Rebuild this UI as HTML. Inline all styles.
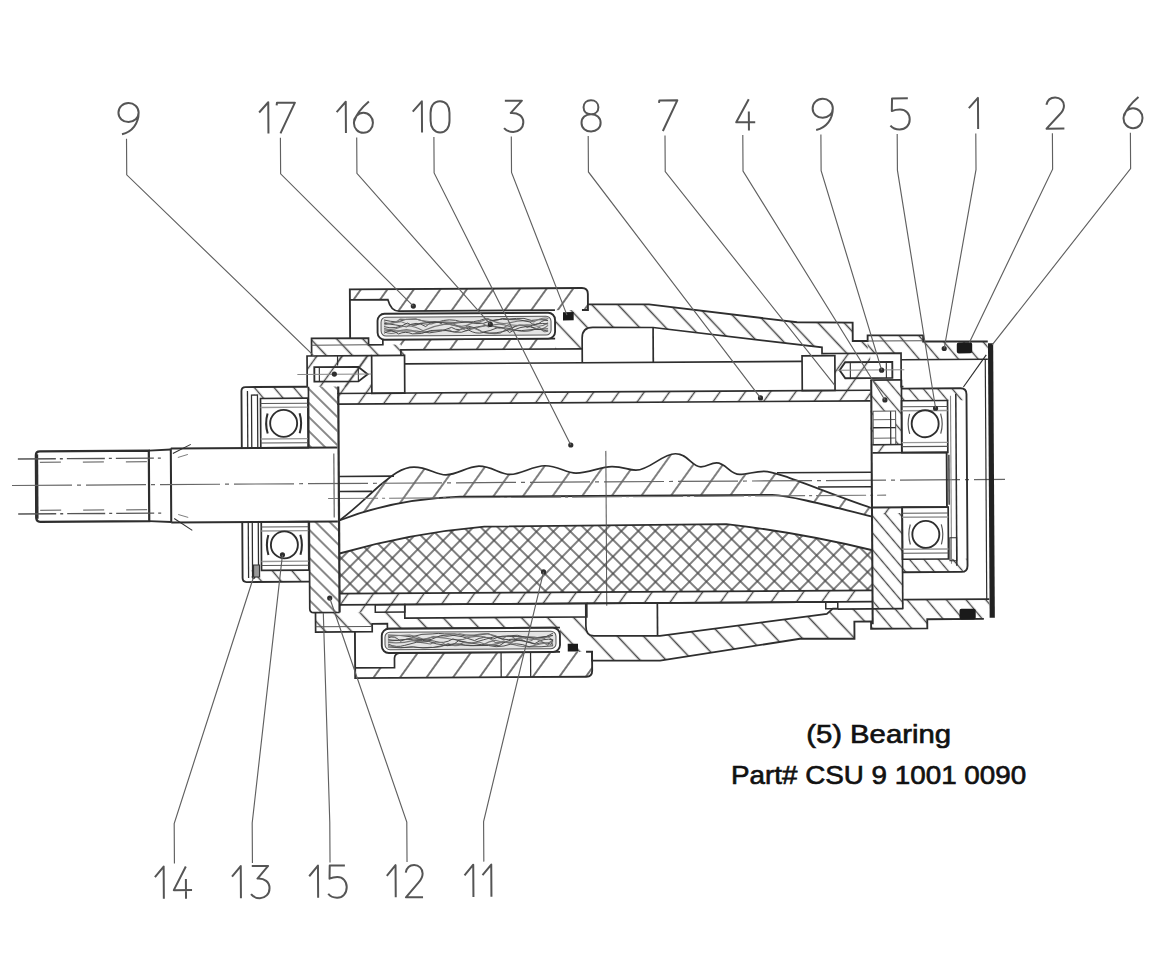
<!DOCTYPE html><html><head><meta charset="utf-8"><style>html,body{margin:0;padding:0;background:#fff;width:1170px;height:953px;overflow:hidden}svg{display:block}</style></head><body><svg width="1170" height="953" viewBox="0 0 1170 953"><defs><pattern id="h17" patternUnits="userSpaceOnUse" width="21.5" height="21.5" patternTransform="translate(0 0) rotate(36)"><line x1="10.75" y1="-5" x2="10.75" y2="26.5" stroke="#484848" stroke-width="1.5"/></pattern><pattern id="h8" patternUnits="userSpaceOnUse" width="20.5" height="20.5" patternTransform="translate(5 0) rotate(36)"><line x1="10.25" y1="-5" x2="10.25" y2="25.5" stroke="#484848" stroke-width="1.4"/></pattern><pattern id="hwav" patternUnits="userSpaceOnUse" width="24" height="24" patternTransform="translate(8 0) rotate(36)"><line x1="12.0" y1="-5" x2="12.0" y2="29" stroke="#484848" stroke-width="1.4"/></pattern><pattern id="hfl" patternUnits="userSpaceOnUse" width="10" height="10" patternTransform="translate(0 0) rotate(-45)"><line x1="5.0" y1="-5" x2="5.0" y2="15" stroke="#484848" stroke-width="1.3"/></pattern><pattern id="h4" patternUnits="userSpaceOnUse" width="11" height="11" patternTransform="translate(0 0) rotate(-40)"><line x1="5.5" y1="-5" x2="5.5" y2="16" stroke="#484848" stroke-width="1.3"/></pattern><pattern id="h1" patternUnits="userSpaceOnUse" width="15" height="15" patternTransform="translate(0 0) rotate(-40)"><line x1="7.5" y1="-5" x2="7.5" y2="20" stroke="#484848" stroke-width="1.4"/></pattern><pattern id="h7" patternUnits="userSpaceOnUse" width="19" height="19" patternTransform="translate(10 0) rotate(-43)"><line x1="9.5" y1="-5" x2="9.5" y2="24" stroke="#484848" stroke-width="1.5"/></pattern><pattern id="xh" patternUnits="userSpaceOnUse" width="12" height="12" patternTransform="translate(10 -3.2) rotate(45)"><line x1="0" y1="6" x2="12" y2="6" stroke="#484848" stroke-width="1.4"/><line x1="6" y1="0" x2="6" y2="12" stroke="#484848" stroke-width="1.4"/></pattern></defs><rect width="1170" height="953" fill="#ffffff"/><g transform="rotate(-0.35 585 480)"><path d="M351,288 L583,288 Q589,288 589,294 L589,310 L400,310 Q392,310 389,298.5 L351,298.5 Z" fill="url(#h17)" stroke="none"/>
<path d="M383.7,338.4 L556,338.4 L556,348.8 L401.7,348.8 L401.7,343.5 L383.7,343.5 Z" fill="url(#h17)" stroke="none"/>
<polygon points="312.4,336.8 369.4,336.8 369.4,343.5 401.7,343.5 401.7,348.8 405.3,348.8 405.3,354.3 307.8,354.3 307.8,343.5 312.4,343.5" fill="url(#h7)" stroke="none"/>
<polygon points="307.8,354.3 372.4,354.3 372.4,385.0 307.8,385.0" fill="url(#h8)" stroke="none"/>
<polygon points="337.6,354.3 372.4,354.3 372.4,392.0 871.0,392.0 871.0,402.6 337.6,402.6" fill="url(#h8)" stroke="none"/>
<polygon points="835.6,355.0 871.0,355.0 871.0,392.0 835.6,392.0" fill="url(#h8)" stroke="none"/>
<polygon points="339.0,592.2 872.0,592.2 872.0,603.4 404.0,603.4 404.0,611.0 339.0,611.0" fill="url(#h8)" stroke="none"/>
<polygon points="308.3,385.0 337.6,385.0 337.6,446.0 308.3,446.0" fill="url(#hfl)" stroke="none"/>
<polygon points="309.0,520.0 338.8,520.0 338.8,611.0 309.0,611.0" fill="url(#hfl)" stroke="none"/>
<polygon points="314.7,611.0 404.0,611.0 404.0,617.0 404.0,617.0 559.0,617.0 559.0,627.5 386.5,627.5 386.5,622.5 371.3,622.5 371.3,630.4 314.7,630.4" fill="url(#h7)" stroke="none"/>
<path d="M354,666.4 L393.4,666.4 L393.4,657 Q393.4,651.8 401,651.8 L591,651.8 L591,670.7 Q591,676.7 585,676.7 L354,676.7 Z" fill="url(#h17)" stroke="none"/>
<path d="M589,304.4 L650,304.8 L798,323.6 L853.6,324.2 L853.6,342.6 L868.5,342.7 L868.5,355 L830,355 L822.8,348.8 L654,327.9 L593.8,327.5 Q583,327.5 583,338 L583,348.8 L556,348.8 L556,310 L589,310 Z" fill="url(#h7)" stroke="none"/>
<path d="M591,660.7 L659,661.1 L799,640.1 L853.5,640.4 L853.5,623.2 L871,623.2 L871,610.6 L832,610.2 L826,615.4 L659,636.4 L593,636 Q585,636 585,626 L585,617 L559,617 L559,651.8 L591,651.8 Z" fill="url(#h7)" stroke="none"/>
<polygon points="868.5,337.1 924.0,337.4 924.0,343.6 988.6,344.0 988.6,361.7 901.8,361.7 901.8,355.0 868.5,355.0" fill="url(#h1)" stroke="none"/>
<polygon points="871.0,610.6 902.5,610.6 902.5,601.5 988.6,601.5 988.6,615.0 983.0,621.3 926.4,621.3 926.4,630.5 870.2,630.5 870.2,623.2 871.0,623.2" fill="url(#h1)" stroke="none"/>
<polygon points="871.0,381.8 901.8,381.8 901.8,447.0 871.0,447.0" fill="url(#h4)" stroke="none"/>
<polygon points="872.6,515.0 902.5,515.0 902.5,610.6 872.6,610.6" fill="url(#h4)" stroke="none"/>
<polygon points="872.6,446.5 902.0,446.5 902.0,454.6 872.6,454.6" fill="url(#h8)" stroke="none"/>
<polygon points="872.6,509.0 902.0,509.0 902.0,516.0 872.6,516.0" fill="url(#h8)" stroke="none"/>
<polygon points="902.0,390.5 961.0,390.5 967.0,396.5 967.0,402.7 902.0,402.7" fill="url(#h4)" stroke="none"/>
<polygon points="902.0,561.2 967.0,561.2 967.0,568.0 961.0,574.2 902.0,574.2" fill="url(#h4)" stroke="none"/>
<polygon points="250.0,385.0 308.3,385.0 308.3,396.5 250.0,396.5" fill="url(#h1)" stroke="none"/>
<polygon points="250.0,568.5 310.0,568.5 310.0,580.0 250.0,580.0" fill="url(#h1)" stroke="none"/>
<path d="M339,519 C352,510 364,498 380,484 C392,474 402,466 414,466 C428,466 436,474 446,474 C458,474 466,466 479,465.5 C492,465.5 500,474 510,474 C522,474 532,465.5 545,465.5 C558,465.5 566,473 576,473 C590,473 600,466.8 612,466.8 C624,466.8 628,470.5 636,470.5 C650,470.5 662,454.3 675.6,454.3 C688,454.3 692,467.5 701,467.5 C708,467.5 710,463.6 716.7,463.6 C726,463.6 730,475.4 739.7,475.4 C748,475.4 754,472.4 764,472.4 C778,472.4 820,492 872,510 L872,518.4 C820,505 790,497 772,496 L460,496 C420,497 380,503 339,519 Z" fill="url(#hwav)" stroke="none"/>
<path d="M339,552 Q410,532 484,526 L726,525 Q800,534 872,552 L872,592.2 L339,592.2 Z" fill="url(#xh)" stroke="none"/>
<path d="M339,519 C352,510 364,498 380,484 C392,474 402,466 414,466 C428,466 436,474 446,474 C458,474 466,466 479,465.5 C492,465.5 500,474 510,474 C522,474 532,465.5 545,465.5 C558,465.5 566,473 576,473 C590,473 600,466.8 612,466.8 C624,466.8 628,470.5 636,470.5 C650,470.5 662,454.3 675.6,454.3 C688,454.3 692,467.5 701,467.5 C708,467.5 710,463.6 716.7,463.6 C726,463.6 730,475.4 739.7,475.4 C748,475.4 754,472.4 764,472.4 C778,472.4 820,492 872,510" fill="none" stroke="#2e2e2e" stroke-width="1.70" />
<path d="M339,519 C380,503 420,497 460,496 L772,496 C790,497 820,505 872,518.4" fill="none" stroke="#2e2e2e" stroke-width="1.87" />
<path d="M339,552 Q410,532 484,526 L726,525 Q800,534 872,552" fill="none" stroke="#2e2e2e" stroke-width="1.87" />
<path d="M40,448 L149,448 L149,518.5 L40,518.5 Q36,518.5 36,514 L36,452 Q36,448 40,448 Z" fill="none" stroke="#2e2e2e" stroke-width="2.21" />
<line x1="36.8" y1="451.0" x2="36.8" y2="515.5" stroke="#2e2e2e" stroke-width="3.06" />
<line x1="149.0" y1="448.0" x2="171.0" y2="447.0" stroke="#2e2e2e" stroke-width="1.87" />
<line x1="149.0" y1="518.5" x2="171.0" y2="519.5" stroke="#2e2e2e" stroke-width="1.87" />
<path d="M171,446 L337.6,446 M171,520 L337.6,520 M171,446 L171,520" fill="none" stroke="#2e2e2e" stroke-width="2.04" />
<line x1="334.0" y1="452.0" x2="334.0" y2="516.0" stroke="#555" stroke-width="1.10" />
<line x1="173.0" y1="451.0" x2="191.0" y2="442.0" stroke="#2e2e2e" stroke-width="1.02" />
<line x1="174.0" y1="516.0" x2="192.0" y2="528.0" stroke="#2e2e2e" stroke-width="1.02" />
<line x1="178.0" y1="455.0" x2="188.0" y2="452.0" stroke="#666" stroke-width="0.85" />
<line x1="178.0" y1="512.0" x2="188.0" y2="515.0" stroke="#666" stroke-width="0.85" />
<line x1="18" y1="455.5" x2="165" y2="455.5" stroke="#555" stroke-width="1.4" stroke-dasharray="38 4 3 4"/>
<line x1="18" y1="510.5" x2="165" y2="510.5" stroke="#555" stroke-width="1.4" stroke-dasharray="38 4 3 4"/>
<line x1="39" y1="459" x2="165" y2="459" stroke="#777" stroke-width="1.2" stroke-dasharray="21 22" stroke-dashoffset="-1"/>
<line x1="39" y1="507" x2="165" y2="507" stroke="#777" stroke-width="1.2" stroke-dasharray="21 22" stroke-dashoffset="-1"/>
<line x1="12" y1="482" x2="1005" y2="482" stroke="#666" stroke-width="1.2" stroke-dasharray="60 5 4 5"/>
<line x1="328" y1="497" x2="886" y2="497" stroke="#777" stroke-width="1.1" stroke-dasharray="50 4 3 4"/>
<line x1="339.0" y1="475.0" x2="394.0" y2="475.0" stroke="#2e2e2e" stroke-width="1.70" />
<line x1="339.0" y1="490.0" x2="372.0" y2="490.0" stroke="#2e2e2e" stroke-width="1.70" />
<line x1="777.0" y1="474.0" x2="872.0" y2="474.0" stroke="#2e2e2e" stroke-width="1.53" />
<line x1="818.0" y1="488.5" x2="872.0" y2="488.5" stroke="#2e2e2e" stroke-width="1.53" />
<line x1="606.0" y1="451.0" x2="606.0" y2="606.0" stroke="#555" stroke-width="1.02" />
<path d="M872.6,454.6 L946.8,454.6 L946.8,509.2 L872.6,509.2" fill="none" stroke="#2e2e2e" stroke-width="1.87" />
<line x1="949.0" y1="457.0" x2="949.0" y2="507.0" stroke="#555" stroke-width="1.70" />
<path d="M351,337 L351,288 L583,288 Q589,288 589,294 L589,310 L583,310" fill="none" stroke="#2e2e2e" stroke-width="1.87" />
<path d="M351,298.5 L389,298.5 Q392,310 400,310 L556,310" fill="none" stroke="#2e2e2e" stroke-width="1.70" />
<path d="M312.4,354.3 L312.4,336.8 L369.4,336.8 L369.4,343.5 L383.7,343.5 L383.7,338.4 L556,338.4" fill="none" stroke="#2e2e2e" stroke-width="1.70" />
<line x1="312.4" y1="343.5" x2="369.4" y2="343.5" stroke="#555" stroke-width="1.02" />
<path d="M401.7,354.3 L401.7,348.8 L583,348.8" fill="none" stroke="#2e2e2e" stroke-width="1.70" />
<rect x="378.5" y="312.5" width="177.5" height="25.9" rx="7" fill="#fff" stroke="#2e2e2e" stroke-width="1.87"/>
<rect x="382.0" y="316.0" width="170.0" height="18.8" rx="5" fill="#e4e4e4" stroke="#555" stroke-width="1.02"/>
<path d="M385.0,318.8 Q391.5,320.4 398.0,320.8 Q407.4,317.0 416.9,318.0 Q427.7,322.5 438.6,321.2 Q450.5,317.0 462.3,321.0 Q474.4,322.6 486.5,318.0 Q494.9,321.8 503.2,318.0 Q510.4,319.0 517.6,318.0 Q525.0,317.0 532.3,320.1 Q540.0,319.1 547.6,319.5 Q548.3,319.1 549.0,318.2" fill="none" stroke="#444" stroke-width="0.94" />
<path d="M385.0,320.5 Q393.0,324.7 401.0,318.0 Q408.8,318.9 416.7,318.0 Q423.5,320.2 430.4,320.5 Q443.3,320.6 456.3,321.8 Q463.0,319.1 469.8,322.0 Q479.3,322.9 488.8,318.0 Q500.1,325.0 511.4,322.2 Q523.2,319.0 535.0,321.6 Q542.0,317.0 549.0,318.0" fill="none" stroke="#777" stroke-width="1.10" />
<path d="M385.0,322.1 Q396.2,323.5 407.4,325.8 Q417.0,319.0 426.6,325.6 Q435.2,317.1 443.9,323.7 Q456.6,322.2 469.4,321.1 Q476.8,323.9 484.2,322.8 Q497.0,317.5 509.7,319.1 Q520.0,318.5 530.3,321.5 Q536.5,327.0 542.7,321.2 Q545.9,319.2 549.0,320.4" fill="none" stroke="#444" stroke-width="0.94" />
<path d="M385.0,323.8 Q393.4,321.3 401.9,320.5 Q412.3,325.9 422.7,322.5 Q429.8,324.5 436.9,321.5 Q444.5,321.0 452.0,322.0 Q461.6,328.3 471.2,323.4 Q480.1,319.3 489.1,326.3 Q500.8,320.6 512.5,327.1 Q525.5,322.5 538.5,325.9 Q543.7,326.3 549.0,322.5" fill="none" stroke="#777" stroke-width="1.10" />
<path d="M385.0,325.4 Q396.7,329.1 408.4,322.0 Q414.8,326.3 421.1,322.3 Q432.4,320.6 443.7,321.7 Q456.6,325.4 469.5,328.0 Q478.4,326.1 487.3,324.7 Q499.8,326.8 512.4,328.3 Q520.3,321.5 528.2,326.9 Q538.6,321.7 549.0,323.8" fill="none" stroke="#444" stroke-width="0.94" />
<path d="M385.0,327.0 Q392.6,329.9 400.2,326.3 Q412.0,322.2 423.9,329.7 Q434.4,324.9 444.9,323.5 Q456.0,322.4 467.0,329.9 Q479.5,326.1 491.9,324.1 Q500.7,331.2 509.5,324.3 Q520.4,325.1 531.3,325.5 Q537.6,331.1 543.9,328.2 Q546.4,327.4 549.0,325.2" fill="none" stroke="#777" stroke-width="1.10" />
<path d="M385.0,328.7 Q394.7,330.1 404.4,329.9 Q417.4,329.1 430.4,331.9 Q441.5,331.4 452.5,326.6 Q460.6,331.9 468.7,325.3 Q476.2,326.2 483.7,331.5 Q491.0,330.5 498.4,327.2 Q504.4,326.1 510.5,332.1 Q520.9,325.3 531.2,326.5 Q540.1,330.2 549.0,328.6" fill="none" stroke="#444" stroke-width="0.94" />
<path d="M385.0,330.3 Q391.0,333.8 397.0,331.4 Q407.3,325.4 417.5,331.4 Q427.4,331.0 437.2,329.9 Q443.9,329.9 450.6,329.3 Q456.9,333.5 463.2,327.0 Q473.2,325.4 483.2,331.3 Q492.0,333.8 500.8,332.8 Q507.9,327.2 515.0,329.4 Q527.7,333.7 540.5,327.0 Q544.7,333.8 549.0,330.4" fill="none" stroke="#777" stroke-width="1.10" />
<path d="M385.0,332.0 Q392.2,327.2 399.4,332.8 Q406.3,329.7 413.2,332.8 Q422.4,333.8 431.5,329.6 Q443.4,327.6 455.2,331.3 Q462.3,332.7 469.4,329.3 Q476.8,333.8 484.2,331.9 Q497.0,333.8 509.8,329.4 Q522.2,331.2 534.7,329.1 Q541.9,328.6 549.0,330.9" fill="none" stroke="#444" stroke-width="0.94" />
<rect x="564" y="312" width="10.7" height="8.3" fill="#1a1a1a"/>
<path d="M354,630.4 L354,676.7 L585,676.7 Q591,676.7 591,670.7 L591,651.8 L585,651.8" fill="none" stroke="#2e2e2e" stroke-width="1.87" />
<path d="M354,666.4 L393.4,666.4 L393.4,657 Q393.4,651.8 401,651.8 L559,651.8" fill="none" stroke="#2e2e2e" stroke-width="1.70" />
<path d="M314.7,611 L314.7,630.4 L371.3,630.4 L371.3,622.5 L386.5,622.5 L386.5,627.5 L559,627.5" fill="none" stroke="#2e2e2e" stroke-width="1.70" />
<line x1="314.7" y1="625.2" x2="371.3" y2="625.2" stroke="#555" stroke-width="1.02" />
<rect x="380.8" y="627.5" width="178.2" height="24.3" rx="7" fill="#fff" stroke="#2e2e2e" stroke-width="1.87"/>
<rect x="384.0" y="631.0" width="171.0" height="17.5" rx="5" fill="#e4e4e4" stroke="#555" stroke-width="1.02"/>
<path d="M387.0,633.8 Q398.9,633.9 410.8,635.8 Q421.0,632.3 431.2,633.0 Q437.3,632.0 443.4,633.0 Q454.4,632.0 465.4,635.4 Q476.3,635.1 487.1,633.0 Q497.9,638.5 508.7,635.3 Q516.3,633.7 524.0,636.8 Q534.7,638.3 545.4,636.2 Q548.7,634.7 552.0,633.0" fill="none" stroke="#444" stroke-width="0.94" />
<path d="M387.0,635.2 Q398.0,634.4 408.9,634.0 Q415.9,635.2 423.0,638.4 Q432.4,635.2 441.9,636.3 Q450.4,635.1 458.9,633.0 Q466.1,634.9 473.2,634.3 Q479.5,633.5 485.7,633.0 Q493.7,634.2 501.8,638.7 Q507.9,632.0 514.1,638.5 Q526.4,635.1 538.7,637.7 Q545.4,637.0 552.0,635.3" fill="none" stroke="#777" stroke-width="1.10" />
<path d="M387.0,636.8 Q393.3,633.6 399.6,640.1 Q406.3,636.4 413.1,639.6 Q421.6,640.2 430.1,638.5 Q439.4,633.4 448.8,634.0 Q461.1,634.8 473.5,639.9 Q482.8,634.4 492.1,638.5 Q501.2,634.1 510.3,636.1 Q521.8,635.1 533.4,638.3 Q542.7,637.0 552.0,635.1" fill="none" stroke="#444" stroke-width="0.94" />
<path d="M387.0,638.2 Q399.8,641.0 412.5,636.1 Q422.4,640.9 432.4,635.5 Q439.5,636.8 446.7,637.7 Q454.6,639.8 462.6,638.6 Q469.9,635.2 477.1,635.8 Q485.8,634.6 494.5,642.1 Q502.7,641.9 510.8,642.1 Q518.4,635.0 526.0,638.7 Q534.7,639.8 543.4,638.3 Q547.7,634.2 552.0,641.3" fill="none" stroke="#777" stroke-width="1.10" />
<path d="M387.0,639.8 Q397.9,639.4 408.7,637.8 Q421.0,637.9 433.3,640.2 Q442.6,643.8 451.9,638.1 Q461.3,641.8 470.6,642.5 Q482.3,639.2 494.0,636.0 Q503.1,640.4 512.2,638.6 Q523.0,640.3 533.8,643.3 Q542.9,637.3 552.0,639.6" fill="none" stroke="#444" stroke-width="0.94" />
<path d="M387.0,641.2 Q399.5,642.8 411.9,639.6 Q420.6,642.0 429.4,643.1 Q437.7,638.3 446.0,644.7 Q456.5,643.8 467.0,644.7 Q474.5,645.6 481.9,644.1 Q488.1,640.5 494.3,639.8 Q507.1,644.3 519.9,638.5 Q526.8,644.6 533.7,638.1 Q540.2,640.2 546.8,645.1 Q549.4,640.5 552.0,640.2" fill="none" stroke="#777" stroke-width="1.10" />
<path d="M387.0,642.8 Q395.3,646.9 403.6,644.3 Q415.7,640.0 427.9,640.5 Q435.2,643.6 442.4,644.0 Q449.9,646.9 457.4,640.0 Q468.9,642.3 480.5,644.1 Q489.3,643.6 498.2,645.3 Q504.4,640.2 510.7,639.4 Q522.5,639.3 534.4,644.0 Q542.3,640.9 550.2,644.2 Q551.1,640.5 552.0,639.6" fill="none" stroke="#444" stroke-width="0.94" />
<path d="M387.0,644.2 Q398.6,647.5 410.3,645.7 Q420.1,647.5 430.0,646.4 Q438.6,647.5 447.2,642.7 Q454.8,647.5 462.3,641.7 Q470.1,643.3 477.9,641.4 Q490.4,647.3 502.9,640.4 Q515.2,646.6 527.6,646.5 Q539.3,643.2 551.0,641.8 Q551.5,644.9 552.0,645.4" fill="none" stroke="#777" stroke-width="1.10" />
<path d="M387.0,645.8 Q399.6,647.5 412.2,645.9 Q422.0,647.5 431.8,646.5 Q442.1,644.6 452.4,643.1 Q458.4,642.5 464.4,644.5 Q475.9,645.1 487.4,644.9 Q495.1,647.1 502.9,645.5 Q515.5,640.8 528.2,646.5 Q540.1,646.9 552.0,645.6" fill="none" stroke="#444" stroke-width="0.94" />
<rect x="566.7" y="643.7" width="10.3" height="7.7" fill="#1a1a1a"/>
<line x1="500.0" y1="651.8" x2="500.0" y2="676.7" stroke="#2e2e2e" stroke-width="1.27" />
<line x1="529.5" y1="651.8" x2="529.5" y2="676.7" stroke="#2e2e2e" stroke-width="1.27" />
<path d="M589,304.4 L650,304.8 L798,323.6 L853.6,324.2 L853.6,342.6 L868.5,342.7 L868.5,337.1 L924,337.4 L924,343.6 L988.6,344" fill="none" stroke="#2e2e2e" stroke-width="1.87" />
<line x1="868.5" y1="342.7" x2="924.0" y2="342.9" stroke="#555" stroke-width="1.02" />
<path d="M583,362.8 L583,338 Q583,327.5 593.8,327.5 L654,327.9 L822.8,348.8 L822.8,355 L830,355 L901.8,355 L901.8,388.5 L904,388.5" fill="none" stroke="#2e2e2e" stroke-width="1.70" />
<line x1="654.0" y1="327.9" x2="654.0" y2="362.8" stroke="#2e2e2e" stroke-width="1.70" />
<line x1="405.3" y1="362.8" x2="802.8" y2="362.8" stroke="#2e2e2e" stroke-width="1.70" />
<rect x="372.4" y="354.3" width="32.9" height="37.7" rx="0" fill="none" stroke="#2e2e2e" stroke-width="1.70"/>
<rect x="802.8" y="357.2" width="32.8" height="34.8" rx="0" fill="none" stroke="#2e2e2e" stroke-width="1.70"/>
<path d="M591,651.8 L591,660.7 L659,661.1 L799,640.1 L853.5,640.4 L853.5,623.2 L870.2,623.2 L870.2,630.5 L926.4,630.5 L926.4,621.3 L983,621.3" fill="none" stroke="#2e2e2e" stroke-width="1.87" />
<path d="M585,603.4 L585,626 Q585,636 593,636 L659,636.4 L826,615.4 L832,610.2 L837,610.2" fill="none" stroke="#2e2e2e" stroke-width="1.70" />
<line x1="656.6" y1="603.4" x2="656.6" y2="636.4" stroke="#2e2e2e" stroke-width="1.70" />
<rect x="374.5" y="603.4" width="29.5" height="7.6" rx="0" fill="none" stroke="#2e2e2e" stroke-width="1.53"/>
<rect x="404.0" y="603.4" width="182.0" height="13.6" rx="0" fill="none" stroke="#2e2e2e" stroke-width="1.70"/>
<line x1="586.0" y1="603.4" x2="837.0" y2="603.4" stroke="#2e2e2e" stroke-width="1.70" />
<rect x="825.0" y="603.4" width="12.0" height="6.8" rx="0" fill="none" stroke="#2e2e2e" stroke-width="1.53"/>
<line x1="837.0" y1="610.6" x2="902.5" y2="610.6" stroke="#2e2e2e" stroke-width="1.70" />
<line x1="337.6" y1="392.0" x2="871.0" y2="392.0" stroke="#2e2e2e" stroke-width="1.70" />
<line x1="337.6" y1="402.6" x2="871.0" y2="402.6" stroke="#2e2e2e" stroke-width="1.70" />
<line x1="339.0" y1="592.2" x2="872.0" y2="592.2" stroke="#2e2e2e" stroke-width="1.70" />
<line x1="339.0" y1="603.4" x2="872.0" y2="603.4" stroke="#2e2e2e" stroke-width="1.70" />
<line x1="338.8" y1="385.0" x2="338.8" y2="611.0" stroke="#2e2e2e" stroke-width="2.21" />
<line x1="338.3" y1="354.3" x2="338.3" y2="364.0" stroke="#2e2e2e" stroke-width="1.19" />
<line x1="871.8" y1="381.8" x2="871.8" y2="626.0" stroke="#2e2e2e" stroke-width="2.04" />
<circle cx="761.0" cy="399.0" r="2.6" fill="#2e2e2e"/>
<path d="M307.8,385 L307.8,354.3 L372.4,354.3" fill="none" stroke="#2e2e2e" stroke-width="1.70" />
<path d="M309,446 L309,385" fill="none" stroke="#2e2e2e" stroke-width="1.70" />
<path d="M309,520 L309,607 Q309,611 313,611 L338.8,611" fill="none" stroke="#2e2e2e" stroke-width="1.70" />
<path d="M315,365.5 L359,365.5 L368.3,373 L359,380 L315,380 Z" fill="none" stroke="#2e2e2e" stroke-width="1.87" />
<line x1="320.0" y1="365.5" x2="320.0" y2="380.0" stroke="#2e2e2e" stroke-width="1.10" />
<line x1="359.0" y1="365.5" x2="359.0" y2="380.0" stroke="#2e2e2e" stroke-width="1.10" />
<line x1="298" y1="372.8" x2="372" y2="372.8" stroke="#888" stroke-width="1.0"/>
<circle cx="335.0" cy="372.5" r="2.6" fill="#2e2e2e"/>
<path d="M308.3,385 L246,385 Q242,385 242,389 L242,446 M242,520 L242,576 Q242,580 246,580 L309,580" fill="none" stroke="#2e2e2e" stroke-width="1.87" />
<line x1="248.0" y1="389.0" x2="248.0" y2="446.0" stroke="#2e2e2e" stroke-width="1.27" />
<line x1="248.0" y1="520.0" x2="248.0" y2="576.0" stroke="#2e2e2e" stroke-width="1.27" />
<rect x="252.0" y="393.0" width="6.0" height="53.0" rx="0" fill="none" stroke="#2e2e2e" stroke-width="1.27"/>
<rect x="252.0" y="520.0" width="6.0" height="54.0" rx="0" fill="none" stroke="#2e2e2e" stroke-width="1.27"/>
<rect x="261.0" y="396.5" width="47.3" height="49.5" rx="0" fill="none" stroke="#2e2e2e" stroke-width="1.70"/>
<line x1="261.0" y1="401.5" x2="308.0" y2="401.5" stroke="#555" stroke-width="1.10" />
<line x1="261.0" y1="441.0" x2="308.0" y2="441.0" stroke="#555" stroke-width="1.10" />
<line x1="261.0" y1="405.5" x2="308.0" y2="405.5" stroke="#999" stroke-width="1.36" />
<line x1="261.0" y1="437.0" x2="308.0" y2="437.0" stroke="#999" stroke-width="1.36" />
<circle cx="284.0" cy="421.5" r="13.5" fill="#fff" stroke="#2e2e2e" stroke-width="1.87"/>
<path d="M268,411.5 Q265,421.5 268,431.5 M300,411.5 Q303,421.5 300,431.5" fill="none" stroke="#2e2e2e" stroke-width="2.04" />
<rect x="261.0" y="520.0" width="47.3" height="48.5" rx="0" fill="none" stroke="#2e2e2e" stroke-width="1.70"/>
<line x1="261.0" y1="525.0" x2="308.0" y2="525.0" stroke="#555" stroke-width="1.10" />
<line x1="261.0" y1="563.5" x2="308.0" y2="563.5" stroke="#555" stroke-width="1.10" />
<line x1="261.0" y1="529.0" x2="308.0" y2="529.0" stroke="#999" stroke-width="1.36" />
<line x1="261.0" y1="559.5" x2="308.0" y2="559.5" stroke="#999" stroke-width="1.36" />
<circle cx="284.0" cy="543.0" r="13.5" fill="#fff" stroke="#2e2e2e" stroke-width="1.87"/>
<path d="M268,533 Q265,543 268,553 M300,533 Q303,543 300,553" fill="none" stroke="#2e2e2e" stroke-width="2.04" />
<circle cx="282.0" cy="553.0" r="2.6" fill="#2e2e2e"/>
<circle cx="253.0" cy="575.0" r="2.0" fill="#2e2e2e"/>
<rect x="253" y="563" width="6" height="12" fill="#999" stroke="#333" stroke-width="1.2"/>
<rect x="873.5" y="413.0" width="22.5" height="33.5" rx="0" fill="#fff" stroke="#555" stroke-width="1.02"/>
<line x1="873.5" y1="421.5" x2="896.0" y2="421.5" stroke="#666" stroke-width="1.02" />
<line x1="873.5" y1="429.5" x2="896.0" y2="429.5" stroke="#2e2e2e" stroke-width="1.36" />
<line x1="873.5" y1="440.0" x2="896.0" y2="440.0" stroke="#666" stroke-width="1.02" />
<line x1="891.0" y1="413.0" x2="891.0" y2="446.5" stroke="#2e2e2e" stroke-width="1.19" />
<line x1="872.6" y1="446.5" x2="902.0" y2="446.5" stroke="#2e2e2e" stroke-width="1.53" />
<path d="M902,390.5 L961,390.5 Q967,390.5 967,396.5 L967,568 Q967,574.2 961,574.2 L902,574.2" fill="none" stroke="#2e2e2e" stroke-width="1.87" />
<line x1="902.0" y1="381.8" x2="902.0" y2="454.6" stroke="#2e2e2e" stroke-width="1.70" />
<line x1="902.0" y1="509.2" x2="902.0" y2="610.6" stroke="#2e2e2e" stroke-width="1.70" />
<line x1="986.0" y1="361.7" x2="986.0" y2="601.5" stroke="#2e2e2e" stroke-width="1.19" />
<rect x="902.0" y="402.7" width="46.0" height="51.9" rx="0" fill="none" stroke="#2e2e2e" stroke-width="1.70"/>
<line x1="902.0" y1="408.7" x2="948.0" y2="408.7" stroke="#555" stroke-width="1.10" />
<line x1="902.0" y1="448.6" x2="948.0" y2="448.6" stroke="#555" stroke-width="1.10" />
<line x1="902.0" y1="412.7" x2="948.0" y2="412.7" stroke="#999" stroke-width="1.36" />
<line x1="902.0" y1="444.6" x2="948.0" y2="444.6" stroke="#999" stroke-width="1.36" />
<circle cx="925.5" cy="425.8" r="13.5" fill="#fff" stroke="#2e2e2e" stroke-width="1.87"/>
<path d="M910,415.8 Q907,425.8 910,435.8 M941,415.8 Q944,425.8 941,435.8" fill="none" stroke="#555" stroke-width="1.19" />
<rect x="902.0" y="509.2" width="46.0" height="52.0" rx="0" fill="none" stroke="#2e2e2e" stroke-width="1.70"/>
<line x1="902.0" y1="515.2" x2="948.0" y2="515.2" stroke="#555" stroke-width="1.10" />
<line x1="902.0" y1="555.2" x2="948.0" y2="555.2" stroke="#555" stroke-width="1.10" />
<line x1="902.0" y1="519.2" x2="948.0" y2="519.2" stroke="#999" stroke-width="1.36" />
<line x1="902.0" y1="551.2" x2="948.0" y2="551.2" stroke="#999" stroke-width="1.36" />
<circle cx="925.5" cy="536.5" r="13.5" fill="#fff" stroke="#2e2e2e" stroke-width="1.87"/>
<path d="M910,526.5 Q907,536.5 910,546.5 M941,526.5 Q944,536.5 941,546.5" fill="none" stroke="#555" stroke-width="1.19" />
<line x1="951.0" y1="398.0" x2="951.0" y2="566.0" stroke="#888" stroke-width="1.10" />
<line x1="956.3" y1="396.0" x2="956.3" y2="568.0" stroke="#2e2e2e" stroke-width="1.53" />
<rect x="949.5" y="540.0" width="6.8" height="23.0" rx="0" fill="none" stroke="#2e2e2e" stroke-width="1.10"/>
<path d="M901.8,361.7 L988.6,361.7" fill="none" stroke="#2e2e2e" stroke-width="1.70" />
<path d="M902.5,601.5 L988.6,601.5" fill="none" stroke="#2e2e2e" stroke-width="1.70" />
<rect x="988.8" y="345.7" width="5.2" height="274.5" fill="#222"/>
<rect x="957.6" y="344.7" width="15.4" height="11" fill="#1a1a1a" rx="2"/>
<rect x="958.7" y="611" width="16.2" height="10.8" fill="#1a1a1a" rx="2"/>
<line x1="987.0" y1="357.4" x2="964.0" y2="389.3" stroke="#2e2e2e" stroke-width="1.19" />
<rect x="835.6" y="355.0" width="66.2" height="26.8" rx="0" fill="none" stroke="#2e2e2e" stroke-width="0.01"/>
<line x1="871.0" y1="381.8" x2="901.8" y2="381.8" stroke="#2e2e2e" stroke-width="1.70" />
<path d="M840.3,371.8 L845.9,363.8 L893,363.8 L893,379.8 L845.9,379.8 Z" fill="none" stroke="#2e2e2e" stroke-width="1.87" />
<line x1="851.0" y1="363.8" x2="851.0" y2="379.8" stroke="#2e2e2e" stroke-width="1.10" />
<line x1="887.0" y1="363.8" x2="887.0" y2="379.8" stroke="#2e2e2e" stroke-width="1.10" />
<line x1="838" y1="371.8" x2="905" y2="371.8" stroke="#888" stroke-width="1.0"/>
<circle cx="882.3" cy="372.0" r="2.6" fill="#2e2e2e"/>
<circle cx="945.0" cy="350.7" r="2.6" fill="#2e2e2e"/>
<circle cx="936.0" cy="410.4" r="2.6" fill="#2e2e2e"/>
<circle cx="885.4" cy="401.8" r="2.6" fill="#2e2e2e"/>
<circle cx="414.4" cy="305.0" r="2.6" fill="#2e2e2e"/>
<circle cx="491.3" cy="323.8" r="2.6" fill="#2e2e2e"/>
<circle cx="571.0" cy="444.9" r="2.6" fill="#2e2e2e"/>
<circle cx="543.0" cy="571.7" r="2.6" fill="#2e2e2e"/>
<circle cx="329.0" cy="596.5" r="2.6" fill="#2e2e2e"/>
<path d="M10.35,0 C4.5,0 0,4.2 0,9.8 C0,15.3 4.5,19.5 10.35,19.5 C16,19.5 20.7,15.3 20.7,9.8 C20.7,4.2 16,0 10.35,0 Z M20.7,9.8 C20.7,21 14,29.5 3.5,32" transform="translate(120.7 100.3) scale(0.9750 0.9750)" fill="none" stroke="#555555" stroke-width="2.0" vector-effect="non-scaling-stroke" stroke-linejoin="round" stroke-linecap="butt"/>
<path d="M0,10.5 L9.4,0 L9.4,32" transform="translate(261.4 100.3) scale(0.9750 0.9750)" fill="none" stroke="#555555" stroke-width="2.0" vector-effect="non-scaling-stroke" stroke-linejoin="round" stroke-linecap="butt"/>
<path d="M0.2,3.2 L0.6,0.6 L19,0.6 L4,32" transform="translate(278.7 100.3) scale(0.9750 0.9750)" fill="none" stroke="#555555" stroke-width="2.0" vector-effect="non-scaling-stroke" stroke-linejoin="round" stroke-linecap="butt"/>
<path d="M0,10.5 L9.4,0 L9.4,32" transform="translate(338.9 100.3) scale(0.9750 0.9750)" fill="none" stroke="#555555" stroke-width="2.0" vector-effect="non-scaling-stroke" stroke-linejoin="round" stroke-linecap="butt"/>
<path d="M9.75,11.5 C4.2,11.5 0,16 0,21.75 C0,27.5 4.2,32 9.75,32 C15.3,32 19.5,27.5 19.5,21.75 C19.5,16 15.3,11.5 9.75,11.5 Z M15.5,0 C9,5.5 3,11 0.6,19.5" transform="translate(356.1 100.3) scale(0.9750 0.9750)" fill="none" stroke="#555555" stroke-width="2.0" vector-effect="non-scaling-stroke" stroke-linejoin="round" stroke-linecap="butt"/>
<path d="M0,10.5 L9.4,0 L9.4,32" transform="translate(415.0 100.3) scale(0.9750 0.9750)" fill="none" stroke="#555555" stroke-width="2.0" vector-effect="non-scaling-stroke" stroke-linejoin="round" stroke-linecap="butt"/>
<path d="M9.7,0 C3.5,0 0,5 0,12 L0,20 C0,27 3.5,32 9.7,32 C15.9,32 19.4,27 19.4,20 L19.4,12 C19.4,5 15.9,0 9.7,0 Z" transform="translate(432.8 100.3) scale(0.9750 0.9750)" fill="none" stroke="#555555" stroke-width="2.0" vector-effect="non-scaling-stroke" stroke-linejoin="round" stroke-linecap="butt"/>
<path d="M1,0 L18.5,0 L7,12.5 C14.5,12 19.8,16 19.8,22 C19.8,28 15,32 9.5,32 C5,32 2,30.5 0,28" transform="translate(506.2 100.3) scale(0.9750 0.9750)" fill="none" stroke="#555555" stroke-width="2.0" vector-effect="non-scaling-stroke" stroke-linejoin="round" stroke-linecap="butt"/>
<path d="M9.8,0 C5.5,0 2.2,2.8 2.2,7.2 C2.2,11.6 5.5,14.4 9.8,14.4 C14.1,14.4 17.4,11.6 17.4,7.2 C17.4,2.8 14.1,0 9.8,0 Z M9.8,14.4 C4.3,14.4 0,17.6 0,23.2 C0,28.6 4.3,32 9.8,32 C15.3,32 19.6,28.6 19.6,23.2 C19.6,17.6 15.3,14.4 9.8,14.4 Z" transform="translate(583.7 100.3) scale(0.9750 0.9750)" fill="none" stroke="#555555" stroke-width="2.0" vector-effect="non-scaling-stroke" stroke-linejoin="round" stroke-linecap="butt"/>
<path d="M0.2,3.2 L0.6,0.6 L19,0.6 L4,32" transform="translate(661.1 100.3) scale(0.9750 0.9750)" fill="none" stroke="#555555" stroke-width="2.0" vector-effect="non-scaling-stroke" stroke-linejoin="round" stroke-linecap="butt"/>
<path d="M13,0 L0,23.5 L19.5,23.5 M13,12.5 L13,32" transform="translate(738.4 100.3) scale(0.9750 0.9750)" fill="none" stroke="#555555" stroke-width="2.0" vector-effect="non-scaling-stroke" stroke-linejoin="round" stroke-linecap="butt"/>
<path d="M10.35,0 C4.5,0 0,4.2 0,9.8 C0,15.3 4.5,19.5 10.35,19.5 C16,19.5 20.7,15.3 20.7,9.8 C20.7,4.2 16,0 10.35,0 Z M20.7,9.8 C20.7,21 14,29.5 3.5,32" transform="translate(814.9 100.3) scale(0.9750 0.9750)" fill="none" stroke="#555555" stroke-width="2.0" vector-effect="non-scaling-stroke" stroke-linejoin="round" stroke-linecap="butt"/>
<path d="M18,0 L1.8,0 L1.5,13 C4,12 7,11.5 9.8,11.5 C15.8,11.5 19.8,15.5 19.8,21.5 C19.8,28 15.3,32 9.5,32 C5,32 2,30.5 0,28" transform="translate(892.6 100.3) scale(0.9750 0.9750)" fill="none" stroke="#555555" stroke-width="2.0" vector-effect="non-scaling-stroke" stroke-linejoin="round" stroke-linecap="butt"/>
<path d="M0,10.5 L9.4,0 L9.4,32" transform="translate(971.1 100.3) scale(0.9750 0.9750)" fill="none" stroke="#555555" stroke-width="2.0" vector-effect="non-scaling-stroke" stroke-linejoin="round" stroke-linecap="butt"/>
<path d="M0.5,7.5 C1.5,2.5 5,0 9.5,0 C14.5,0 18.5,3.5 18.5,8.5 C18.5,12 17,14.5 14,17.5 L0.5,32 L18.8,32" transform="translate(1048.2 100.3) scale(0.9750 0.9750)" fill="none" stroke="#555555" stroke-width="2.0" vector-effect="non-scaling-stroke" stroke-linejoin="round" stroke-linecap="butt"/>
<path d="M9.75,11.5 C4.2,11.5 0,16 0,21.75 C0,27.5 4.2,32 9.75,32 C15.3,32 19.5,27.5 19.5,21.75 C19.5,16 15.3,11.5 9.75,11.5 Z M15.5,0 C9,5.5 3,11 0.6,19.5" transform="translate(1125.7 100.3) scale(0.9750 0.9750)" fill="none" stroke="#555555" stroke-width="2.0" vector-effect="non-scaling-stroke" stroke-linejoin="round" stroke-linecap="butt"/>
<path d="M0,10.5 L9.4,0 L9.4,32" transform="translate(152.5 864.0) scale(0.9358 1.0063)" fill="none" stroke="#555555" stroke-width="2.0" vector-effect="non-scaling-stroke" stroke-linejoin="round" stroke-linecap="butt"/>
<path d="M13,0 L0,23.5 L19.5,23.5 M13,12.5 L13,32" transform="translate(171.3 864.0) scale(0.9358 1.0063)" fill="none" stroke="#555555" stroke-width="2.0" vector-effect="non-scaling-stroke" stroke-linejoin="round" stroke-linecap="butt"/>
<path d="M0,10.5 L9.4,0 L9.4,32" transform="translate(229.6 864.0) scale(0.9358 1.0063)" fill="none" stroke="#555555" stroke-width="2.0" vector-effect="non-scaling-stroke" stroke-linejoin="round" stroke-linecap="butt"/>
<path d="M1,0 L18.5,0 L7,12.5 C14.5,12 19.8,16 19.8,22 C19.8,28 15,32 9.5,32 C5,32 2,30.5 0,28" transform="translate(248.5 864.0) scale(0.9358 1.0063)" fill="none" stroke="#555555" stroke-width="2.0" vector-effect="non-scaling-stroke" stroke-linejoin="round" stroke-linecap="butt"/>
<path d="M0,10.5 L9.4,0 L9.4,32" transform="translate(306.8 864.0) scale(0.9358 1.0063)" fill="none" stroke="#555555" stroke-width="2.0" vector-effect="non-scaling-stroke" stroke-linejoin="round" stroke-linecap="butt"/>
<path d="M18,0 L1.8,0 L1.5,13 C4,12 7,11.5 9.8,11.5 C15.8,11.5 19.8,15.5 19.8,21.5 C19.8,28 15.3,32 9.5,32 C5,32 2,30.5 0,28" transform="translate(325.7 864.0) scale(0.9358 1.0063)" fill="none" stroke="#555555" stroke-width="2.0" vector-effect="non-scaling-stroke" stroke-linejoin="round" stroke-linecap="butt"/>
<path d="M0,10.5 L9.4,0 L9.4,32" transform="translate(384.4 864.0) scale(0.9358 1.0063)" fill="none" stroke="#555555" stroke-width="2.0" vector-effect="non-scaling-stroke" stroke-linejoin="round" stroke-linecap="butt"/>
<path d="M0.5,7.5 C1.5,2.5 5,0 9.5,0 C14.5,0 18.5,3.5 18.5,8.5 C18.5,12 17,14.5 14,17.5 L0.5,32 L18.8,32" transform="translate(402.9 864.0) scale(0.9358 1.0063)" fill="none" stroke="#555555" stroke-width="2.0" vector-effect="non-scaling-stroke" stroke-linejoin="round" stroke-linecap="butt"/>
<path d="M0,10.5 L9.4,0 L9.4,32" transform="translate(462.1 864.0) scale(0.9358 1.0063)" fill="none" stroke="#555555" stroke-width="2.0" vector-effect="non-scaling-stroke" stroke-linejoin="round" stroke-linecap="butt"/>
<path d="M0,10.5 L9.4,0 L9.4,32" transform="translate(480.1 864.0) scale(0.9358 1.0063)" fill="none" stroke="#555555" stroke-width="2.0" vector-effect="non-scaling-stroke" stroke-linejoin="round" stroke-linecap="butt"/>
<polyline points="128.6,136.0 128.6,172.0 317.0,356.4" fill="none" stroke="#606060" stroke-width="1.15"/>
<polyline points="282.5,136.0 282.5,172.0 414.4,305.0" fill="none" stroke="#606060" stroke-width="1.15"/>
<polyline points="358.8,136.0 358.8,172.0 491.3,323.8" fill="none" stroke="#606060" stroke-width="1.15"/>
<polyline points="436.0,136.0 436.0,172.0 571.0,444.9" fill="none" stroke="#606060" stroke-width="1.15"/>
<polyline points="513.4,136.0 513.4,172.0 568.0,315.0" fill="none" stroke="#606060" stroke-width="1.15"/>
<polyline points="590.3,136.0 590.3,172.0 761.0,399.0" fill="none" stroke="#606060" stroke-width="1.15"/>
<polyline points="667.1,136.0 667.1,172.0 835.0,386.5" fill="none" stroke="#606060" stroke-width="1.15"/>
<polyline points="744.9,136.0 744.9,172.0 885.4,401.8" fill="none" stroke="#606060" stroke-width="1.15"/>
<polyline points="823.0,136.0 823.0,172.0 882.3,372.0" fill="none" stroke="#606060" stroke-width="1.15"/>
<polyline points="899.3,136.0 899.3,172.0 936.0,410.4" fill="none" stroke="#606060" stroke-width="1.15"/>
<polyline points="977.9,136.0 977.9,172.0 945.0,350.7" fill="none" stroke="#606060" stroke-width="1.15"/>
<polyline points="1054.5,136.0 1054.5,172.0 970.0,345.3" fill="none" stroke="#606060" stroke-width="1.15"/>
<polyline points="1132.5,136.0 1132.5,172.0 993.0,347.4" fill="none" stroke="#606060" stroke-width="1.15"/>
<polyline points="172.1,861.0 172.1,821.0 253.0,575.0" fill="none" stroke="#606060" stroke-width="1.15"/>
<polyline points="250.1,861.0 250.1,821.0 282.0,553.0" fill="none" stroke="#606060" stroke-width="1.15"/>
<polyline points="327.7,861.0 327.7,821.0 322.5,611.5" fill="none" stroke="#606060" stroke-width="1.15"/>
<polyline points="404.7,861.0 404.7,821.0 329.0,596.5" fill="none" stroke="#606060" stroke-width="1.15"/>
<polyline points="481.5,861.0 481.5,821.0 543.0,571.7" fill="none" stroke="#606060" stroke-width="1.15"/></g><text x="878.6" y="743.4" text-anchor="middle" font-family="Liberation Sans, sans-serif" font-weight="normal" font-size="26" fill="#111" stroke="#111" stroke-width="0.65" textLength="144.8" lengthAdjust="spacingAndGlyphs">(5) Bearing</text><text x="878.6" y="783.9" text-anchor="middle" font-family="Liberation Sans, sans-serif" font-weight="normal" font-size="26" fill="#111" stroke="#111" stroke-width="0.65" textLength="295.3" lengthAdjust="spacingAndGlyphs">Part# CSU 9 1001 0090</text></svg></body></html>
